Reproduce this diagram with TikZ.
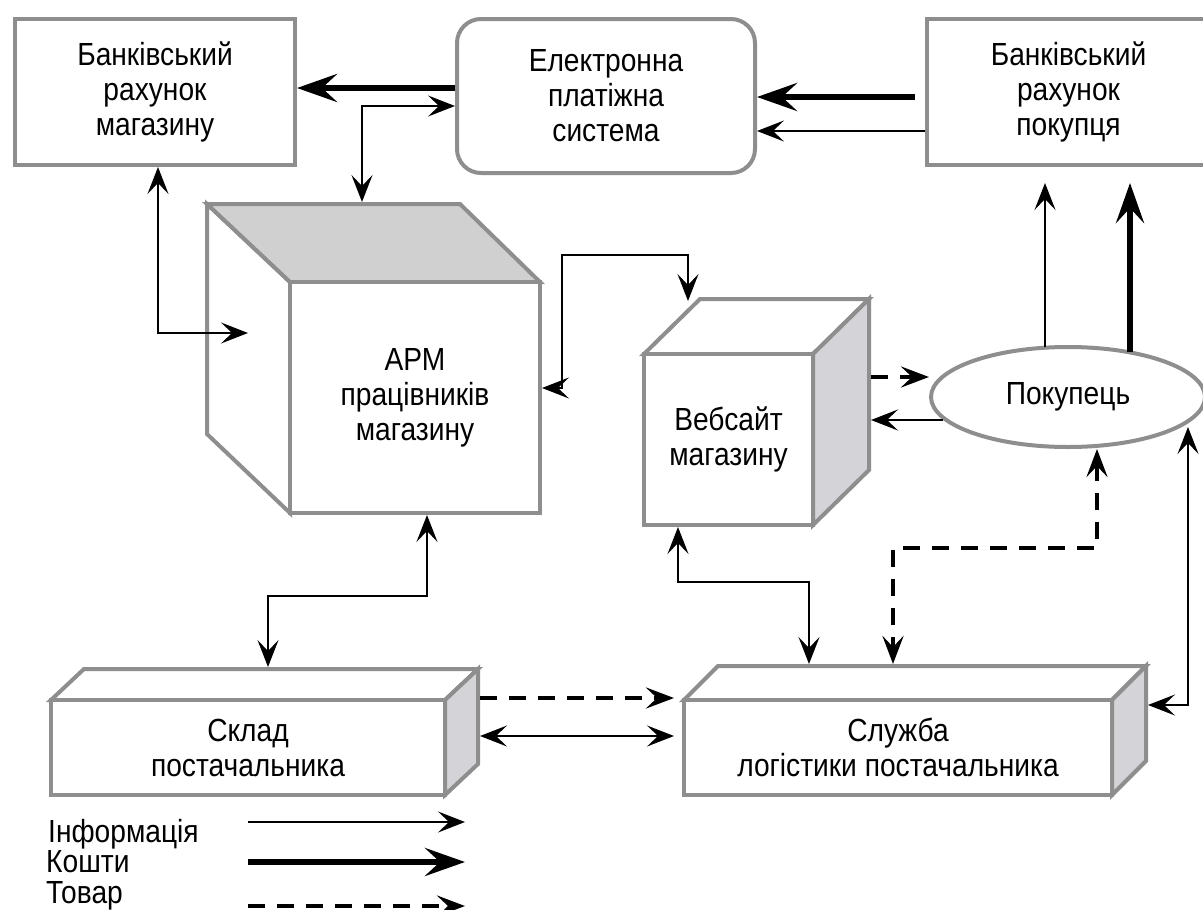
\documentclass[tikz,border=0pt]{standalone}
\usepackage{fontspec}
\setmainfont{Liberation Sans}[FakeStretch=0.88]
\usetikzlibrary{arrows.meta,shapes.geometric,calc}

\definecolor{edgegray}{HTML}{8E8E8E}
\definecolor{sideshade}{HTML}{D3D3D8}
\definecolor{topshade}{HTML}{D0D0D0}

\begin{document}
\begin{tikzpicture}[x=1pt,y=-1pt,
  frame/.style={draw=edgegray, line width=4pt, fill=white, line join=miter},
  lbl/.style={font=\fontsize{32}{35}\selectfont, align=center, text=black},
  info/.style={line width=2pt, >={Stealth[length=27pt,width=21pt,inset=11pt]}},
  money/.style={line width=6pt, >={Stealth[length=40pt,width=28pt,inset=15pt]}},
  goods/.style={line width=4.5pt, dash pattern=on 17pt off 12pt,
                >={Stealth[length=28pt,width=21pt,inset=11pt]}}]

\fill[white] (0,0) rectangle (1203,910);
\useasboundingbox (0,0) rectangle (1203,910);

% ---- flat boxes on the top row
\node[frame,lbl,minimum width=280pt,minimum height=146pt] (bank1) at (155,92)
  {Банківський\\рахунок\\магазину};
\node[frame,lbl,rounded corners=24pt,minimum width=298pt,minimum height=154pt] (eps) at (606,96)
  {Електронна\\платіжна\\система};
\node[frame,lbl,minimum width=283pt,minimum height=146pt] (bank2) at (1068.5,92)
  {Банківський\\рахунок\\покупця};

% ---- workstation cube (depth goes up and to the left)
\path[frame] (290,282) -- (207,204) -- (207,434) -- (290,513) -- cycle;
\path[frame,fill=topshade] (290,282) -- (207,204) -- (460,204) -- (540,282) -- cycle;
\node[frame,lbl,minimum width=250pt,minimum height=231pt] (apm) at (415,397.5)
  {АРМ\\працівників\\магазину};

% ---- website cube (depth goes up and to the right)
\path[frame] (644,354) -- (700,299) -- (869,299) -- (813,354) -- cycle;
\path[frame,fill=sideshade] (813,354) -- (869,299) -- (869,470) -- (813,525) -- cycle;
\node[frame,lbl,minimum width=169pt,minimum height=171pt] (web) at (728.5,439.5)
  {Вебсайт\\магазину};

% ---- customer
\node[frame,lbl,ellipse,inner sep=0pt,minimum width=274pt,minimum height=100pt] (buyer) at (1068,397)
  {Покупець};

% ---- supplier warehouse
\path[frame] (51,700) -- (84,669) -- (478,669) -- (445,700) -- cycle;
\path[frame,fill=sideshade] (445,700) -- (478,669) -- (478,764) -- (445,795) -- cycle;
\node[frame,lbl,minimum width=394pt,minimum height=95pt] (store) at (248,747.5)
  {Склад\\постачальника};

% ---- supplier logistics
\path[frame] (684,700) -- (718,666) -- (1146,666) -- (1112,700) -- cycle;
\path[frame,fill=sideshade] (1112,700) -- (1146,666) -- (1146,761) -- (1112,795) -- cycle;
\node[frame,lbl,minimum width=428pt,minimum height=95pt] (logi) at (898,747.5)
  {Служба\\логістики постачальника};

% ---- connector end points on the faces of the boxes
\coordinate (apmTop) at (362,202);
\coordinate (apmLeft) at (248,333);
\coordinate (apmBend) at (562,255);
\coordinate (webTop) at (688,301);
\coordinate (webSideA) at (871,377);
\coordinate (webSideB) at (871,420);
\coordinate (storeTop) at (268,667);
\coordinate (storeSideA) at (480,698);
\coordinate (storeSideB) at (480,736);
\coordinate (logiTopA) at (809,664);
\coordinate (logiTopB) at (893,664);
\coordinate (logiSide) at (1148,705);

% ---- payments
\draw[money,->] ($(eps.west)+(0,-8)$) -- ($(bank1.east)+(0,-4)$);
\draw[money,->] ($(bank2.west)+(-10,5)$) -- ($(eps.east)+(0,1)$);
\draw[money,->] ($(buyer.north)+(62,7)$) -- ($(bank2.south)+(61.5,16)$);

% ---- information
\draw[info,<->] ($(eps.west)+(0,10)$) -| (apmTop);
\draw[info,->] ($(bank2.west)+(0,39)$) -- ($(eps.east)+(0,35)$);
\draw[info,<->] ($(bank1.south)+(3,0)$) |- (apmLeft);
\draw[info,<->] ($(apm.east)+(0,-9.5)$) -| (apmBend) -| (webTop);
\draw[info,->] ($(buyer.west |- webSideB)+(14,0)$) -- (webSideB);
\draw[info,->] ($(buyer.north)+(-23,2)$) -- ($(bank2.south)+(-23.5,16)$);
\draw[info,<->] ($(buyer.center)+(120,30)$) |- (logiSide);
\draw[info,<->] ($(web.south)+(-50.5,0)$) -- ++(0,55) -| (logiTopA);
\draw[info,<->] ($(apm.south)+(12,0)$) -- ++(0,81) -| (storeTop);
\draw[info,<->] (storeSideB) -- ($(storeSideB -| logi.west)+(-8,0)$);

% ---- goods
\draw[goods,->] (webSideA) -- (webSideA -| buyer.west);
\draw[goods,<->] ($(buyer.south)+(29,0)$) -- ++(0,99) -| (logiTopB);
\draw[goods,->] (storeSideA) -- ($(storeSideA -| logi.west)+(-8,0)$);

% ---- legend
\node[lbl,anchor=base west,inner sep=0pt] (infoTxt) at (48,842) {Інформація};
\node[lbl,anchor=base west,inner sep=0pt] (cashTxt) at (46,872) {Кошти};
\node[lbl,anchor=base west,inner sep=0pt] (goodsTxt) at (46,903) {Товар};
\coordinate (infoA) at (248,822);  \coordinate (infoB) at (465,822);
\coordinate (cashA) at (248,862);  \coordinate (cashB) at (465,862);
\coordinate (goodsA) at (248,906); \coordinate (goodsB) at (465,906);
\draw[info,->] (infoA) -- (infoB);
\draw[money,->] (cashA) -- (cashB);
\draw[goods,->] (goodsA) -- (goodsB);
\end{tikzpicture}
\end{document}
